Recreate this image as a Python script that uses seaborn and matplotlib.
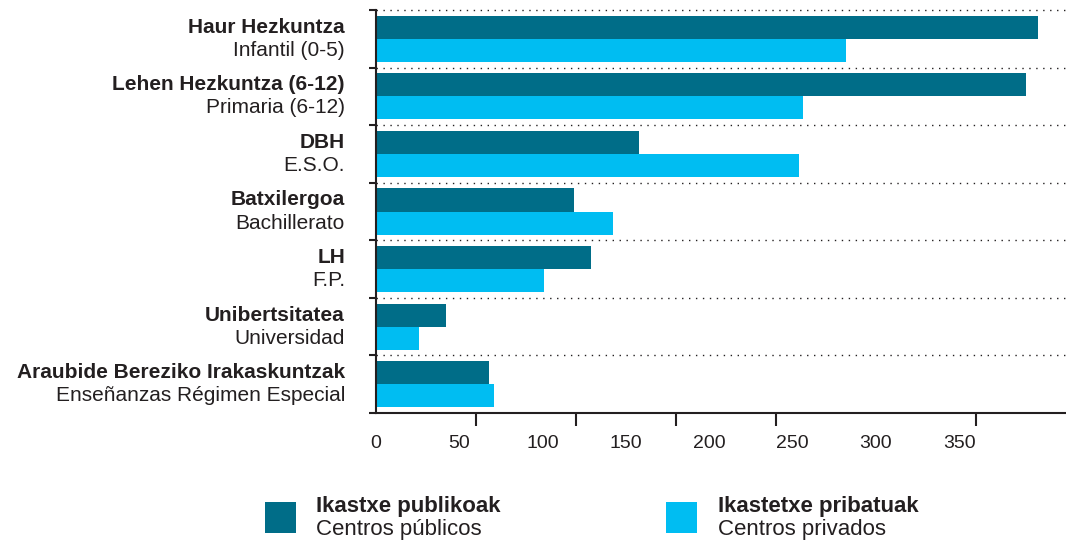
import matplotlib
matplotlib.use("Agg")
import matplotlib.pyplot as plt
import seaborn as sns
import pandas as pd
import numpy as np
from matplotlib.patches import Rectangle

# ---- data ----
cat_eu = ["Haur Hezkuntza", "Lehen Hezkuntza (6-12)", "DBH", "Batxilergoa", "LH",
          "Unibertsitatea", "Araubide Bereziko Irakaskuntzak"]
cat_es = ["Infantil (0-5)", "Primaria (6-12)", "E.S.O.", "Bachillerato", "F.P.",
          "Universidad", "Enseñanzas Régimen Especial"]
series_eu = ["Ikastxe publikoak", "Ikastetxe pribatuak"]
series_es = ["Centros públicos", "Centros privados"]
publicos = [397, 390, 158, 119, 129, 42, 68]
privados = [282, 256, 254, 142, 101, 26, 71]
x_labels = [0, 50, 100, 150, 200, 250, 300, 350]
colors = ["#006d88", "#00bdf2"]

df = pd.DataFrame({
    "cat": cat_eu * 2,
    "serie": [series_eu[0]] * len(cat_eu) + [series_eu[1]] * len(cat_eu),
    "valor": publicos + privados,
})

sns.set_theme(style="white")
plt.rcParams["font.family"] = ["Liberation Sans", "DejaVu Sans"]

fig = plt.figure(figsize=(10.66, 5.41), dpi=100)
ax = fig.add_axes([376 / 1066, (541 - 413) / 541, 690 / 1066, 403 / 541])

sns.barplot(data=df, x="valor", y="cat", hue="serie", order=cat_eu,
            hue_order=series_eu, palette=colors, orient="h", width=0.8,
            saturation=1, legend=False, ax=ax, linewidth=0)

n = len(cat_eu)
ax.set_xlim(0, 414)
ax.set_ylim(n - 0.5, -0.5)
ax.set_xlabel("")
ax.set_ylabel("")

# spines
for s in ["top", "right"]:
    ax.spines[s].set_visible(False)
for s in ["left", "bottom"]:
    ax.spines[s].set_color("#231f20")
    ax.spines[s].set_linewidth(1.5)

# x axis: labels every 50, tick marks every 60
ax.set_xticks(x_labels)
ax.set_xticklabels([str(v) for v in x_labels], fontsize=14, color="#231f20")
ax.tick_params(axis="x", which="major", length=0, pad=16)
ax.set_xticks(np.arange(0, 361, 60), minor=True)
ax.tick_params(axis="x", which="minor", length=9, width=1.5, color="#231f20",
               direction="out", bottom=True)

# y axis: tick marks at category boundaries
bounds = np.arange(-0.5, n + 0.5, 1.0)
ax.set_yticks(bounds)
ax.set_yticklabels([])
ax.tick_params(axis="y", which="major", length=5, width=1.5, color="#231f20",
               direction="out", left=True)

# dotted separators
for b in bounds[:-1]:
    ax.axhline(b, color="#231f20", linestyle=(0, (1, 4)), linewidth=1.0,
               zorder=0.5, clip_on=False)

# category labels (two lines)
tr = ax.get_yaxis_transform()
for i in range(n):
    ax.text(-0.045, i - 0.2, cat_eu[i], transform=tr, ha="right", va="center",
            fontsize=15, fontweight="bold", color="#231f20")
    ax.text(-0.045, i + 0.2, cat_es[i], transform=tr, ha="right", va="center",
            fontsize=15, color="#231f20")

# legend (manual)
leg_sq_x = [265 / 1066, 665.6 / 1066]
leg_tx_x = [316 / 1066, 717.5 / 1066]
for k in range(2):
    fig.add_artist(Rectangle((leg_sq_x[k], 8 / 541), 31 / 1066, 31 / 541,
                             transform=fig.transFigure, facecolor=colors[k],
                             edgecolor="none"))
    fig.text(leg_tx_x[k], (541 - 512) / 541, series_eu[k], ha="left", va="baseline",
             fontsize=16, fontweight="bold", color="#231f20")
    fig.text(leg_tx_x[k], (541 - 535) / 541, series_es[k], ha="left", va="baseline",
             fontsize=16, color="#231f20")

fig.savefig("out.png", dpi=100)
